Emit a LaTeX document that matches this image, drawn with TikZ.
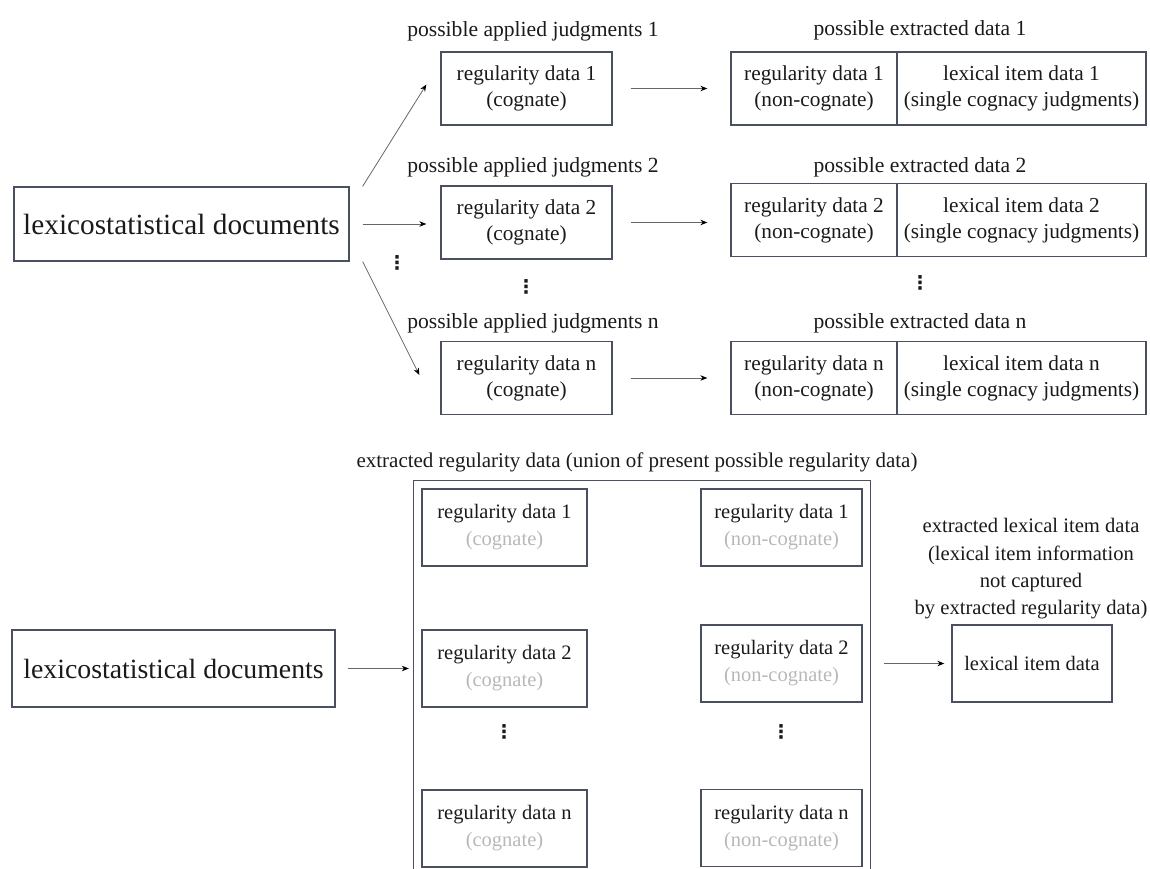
\documentclass[tikz,border=0pt]{standalone}
\usepackage{fontspec}
\setmainfont{Liberation Serif}
\newfontfamily\dvsans{DejaVu Sans}
\usetikzlibrary{arrows.meta}
\definecolor{bordc}{HTML}{4A5060}
\definecolor{arrc}{HTML}{666666}
\definecolor{txtc}{HTML}{1A1A1A}
\definecolor{cogc}{HTML}{B8B8B8}
\tikzset{
  lab/.style={font=\fontsize{21.6}{26}\selectfont, text=txtc, inner sep=0pt, align=center},
  labb/.style={font=\fontsize{21}{27.3}\selectfont, text=txtc, inner sep=0pt, align=center},
  box/.style={draw=bordc, line width=1.3pt, rectangle, inner sep=0pt, align=center, text=txtc,
              font=\fontsize{21.3}{26}\selectfont},
  boxb/.style={box, font=\fontsize{20.5}{27}\selectfont},
  arr/.style={draw=arrc, line width=0.8pt, -{Stealth[length=7pt,width=5.5pt,color=black]}},
  dots/.style={font=\dvsans\bfseries\fontsize{19}{19}\selectfont, text=txtc, inner sep=0pt}
}
\begin{document}
\begin{tikzpicture}[x=1pt,y=-1pt]
\useasboundingbox (0,0) rectangle (1150,869);
% ---------- top part ----------
\node[box, minimum width=335pt, minimum height=74pt, font=\fontsize{29.3}{30}\selectfont] (lexT) at (181.5,224) {lexicostatistical documents};

\node[lab] (al1) at (533,31) {possible applied judgments 1};
\node[lab] (al2) at (533,167) {possible applied judgments 2};
\node[lab] (aln) at (533,323) {possible applied judgments n};

\node[box, minimum width=171pt, minimum height=73pt] (r1) at (526.5,88.5) {regularity data 1\\(cognate)};
\node[box, minimum width=171pt, minimum height=73pt] (r2) at (526.5,222.5) {regularity data 2\\(cognate)};
\node[box, minimum width=171pt, minimum height=73pt] (rn) at (526.5,378) {regularity data n\\(cognate)};
\node[dots] (dm) at (526,287) {⋮};
\node[dots] (dl) at (397,263) {⋮};

\node[lab] (el1) at (920,30) {possible extracted data 1};
\node[lab] (el2) at (920,167) {possible extracted data 2};
\node[lab] (eln) at (920,323) {possible extracted data n};

\node[box, minimum width=166pt, minimum height=73pt] (e1a) at (814,88.5) {regularity data 1\\(non-cognate)};
\node[box, minimum width=249pt, minimum height=73pt] (e1b) at (1021.5,88.5) {lexical item data 1\\(single cognacy judgments)};
\node[box, minimum width=166pt, minimum height=73pt] (e2a) at (814,220) {regularity data 2\\(non-cognate)};
\node[box, minimum width=249pt, minimum height=73pt] (e2b) at (1021.5,220) {lexical item data 2\\(single cognacy judgments)};
\node[box, minimum width=166pt, minimum height=73pt] (ena) at (814,378) {regularity data n\\(non-cognate)};
\node[box, minimum width=249pt, minimum height=73pt] (enb) at (1021.5,378) {lexical item data n\\(single cognacy judgments)};
\node[dots] (de) at (920,283) {⋮};

\draw[arr] ([xshift=13pt]lexT.north east) -- ([xshift=-14pt,yshift=4pt]r1.west);
\draw[arr] ([xshift=13pt]lexT.east) -- ([xshift=-14pt]lexT.east -| r2.west);
\draw[arr] ([xshift=13pt]lexT.south east) -- ([xshift=-21pt,yshift=3pt]rn.west);
\draw[arr] ([xshift=18pt]r1.east) -- ([xshift=-23pt]e1a.west);
\draw[arr] ([xshift=18pt]r2.east) -- ([xshift=-23pt]r2.east -| e2a.west);
\draw[arr] ([xshift=18pt]rn.east) -- ([xshift=-23pt]ena.west);

% ---------- bottom part ----------
\node[box, minimum width=323pt, minimum height=77pt, font=\fontsize{27.8}{30}\selectfont] (lexB) at (173.5,668.5) {lexicostatistical documents};

\node[labb] (ul) at (637,462) {extracted regularity data (union of present possible regularity data)};
\node[rectangle, minimum width=456pt, minimum height=388pt, inner sep=0pt] (union) at (642,675) {};
\draw[draw=bordc, line width=1.3pt] (union.south west) -- (union.north west) -- (union.north east) -- (union.south east);

\node[boxb, minimum width=165pt, minimum height=77pt] (c1) at (504.5,527.5) {regularity data 1\\\textcolor{cogc}{(cognate)}};
\node[boxb, minimum width=165pt, minimum height=77pt] (c2) at (504.5,668.5) {regularity data 2\\\textcolor{cogc}{(cognate)}};
\node[boxb, minimum width=165pt, minimum height=77pt] (cn) at (504.5,828.5) {regularity data n\\\textcolor{cogc}{(cognate)}};
\node[dots] (dc) at (504,732) {⋮};

\node[boxb, minimum width=161pt, minimum height=77pt] (n1) at (781.5,527.5) {regularity data 1\\\textcolor{cogc}{(non-cognate)}};
\node[boxb, minimum width=161pt, minimum height=77pt] (n2) at (781.5,663.5) {regularity data 2\\\textcolor{cogc}{(non-cognate)}};
\node[boxb, minimum width=161pt, minimum height=77pt] (nn) at (781.5,828) {regularity data n\\\textcolor{cogc}{(non-cognate)}};
\node[dots] (dn) at (781,732) {⋮};

\node[labb, font=\fontsize{20.6}{27.3}\selectfont] (ll) at (1031,569) {extracted lexical item data\\(lexical item information\\not captured\\by extracted regularity data)};
\node[boxb, minimum width=160pt, minimum height=77pt] (li) at (1032,663.5) {lexical item data};

\draw[arr] ([xshift=12pt]lexB.east) -- ([xshift=-5pt]lexB.east -| union.west);
\coordinate (uE) at ([xshift=14pt]union.east);
\draw[arr] (uE |- li.west) -- ([xshift=-7pt]li.west);
\end{tikzpicture}
\end{document}
